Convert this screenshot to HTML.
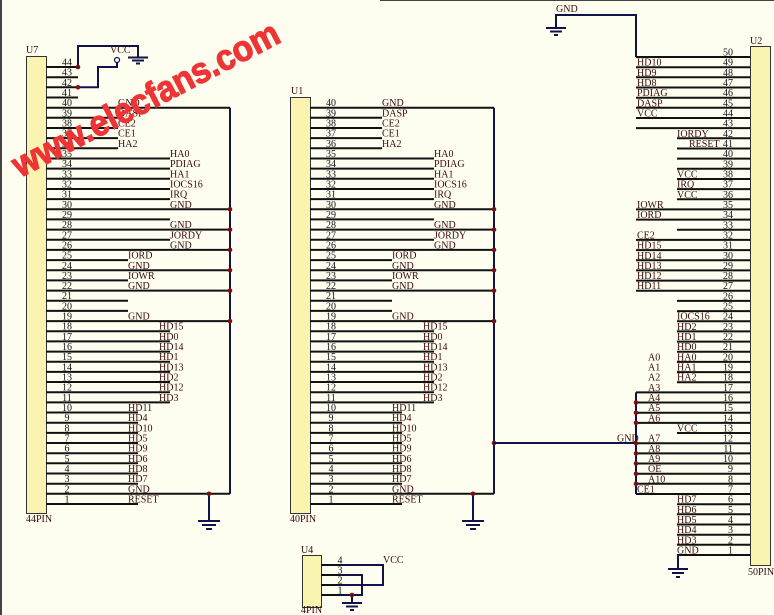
<!DOCTYPE html>
<html><head><meta charset="utf-8"><style>
html,body{margin:0;padding:0;background:#fefef0;}
svg{display:block;}
text{font-family:"Liberation Serif",serif;font-size:10px;fill:#3a0a0a;}
.n{fill:#111;text-anchor:middle;}
.r{fill:#111;text-anchor:end;}
.w{stroke:#12124a;stroke-width:2;fill:none;}
.p{stroke:#111;stroke-width:2;fill:none;}
.b{fill:#fbf3b0;stroke:#333;stroke-width:1;}
.d{fill:#7a1010;}
.g{stroke:#12124a;stroke-width:2;fill:none;}
</style></head><body>
<svg width="774" height="615" viewBox="0 0 774 615" xmlns="http://www.w3.org/2000/svg">
<rect x="0" y="0" width="774" height="615" fill="#fefef0"/>
<line x1="1" y1="0" x2="1" y2="615" stroke="#444" stroke-width="2"/>
<line x1="380" y1="0.5" x2="774" y2="0.5" stroke="#444" stroke-width="1"/>

<!-- ================= U7 ================= -->
<rect class="b" x="26.5" y="56.5" width="20" height="457"/>
<text x="26" y="53">U7</text>
<text x="26" y="522">44PIN</text>
<path class="p" d="M46 67H78M46 77.2H78M46 87.3H78M46 97.5H78
M46 107.7H230M46 117.8H118M46 128H118M46 138.1H118M46 148.3H118
M46 158.5H170M46 168.6H170M46 178.8H170M46 189H170M46 199.1H170
M46 209.3H230M46 219.4H170M46 229.6H230M46 239.8H170M46 249.9H230
M46 260.1H128M46 270.3H230M46 280.4H128M46 290.6H230M46 300.7H128M46 310.9H128M46 321.1H230
M46 331.2H170M46 341.4H170M46 351.6H170M46 361.7H170M46 371.9H170M46 382H170M46 392.2H170M46 402.4H170
M46 412.5H138M46 422.7H138M46 432.9H138M46 443H138M46 453.2H138M46 463.3H138M46 473.5H138M46 483.7H138
M46 493.8H230M46 504H138"/>
<path class="w" d="M230 107.7V493.8M209 493.8V521M78 67V46H138V57M78 87.3H98V67H117V63"/>
<circle cx="117" cy="60" r="2.5" fill="none" stroke="#12124a" stroke-width="1.2"/>
<text x="110" y="53">VCC</text>
<path class="g" d="M128 57.5H148M132 60.5H144M136 63.5H140"/>
<path class="g" d="M198 521H220M202 525H216M206 529H212"/>
<g class="d"><circle cx="78" cy="67" r="2.3"/><circle cx="78" cy="87.3" r="2.3"/>
<circle cx="230" cy="209.3" r="2.3"/><circle cx="230" cy="229.6" r="2.3"/><circle cx="230" cy="249.9" r="2.3"/><circle cx="230" cy="270.3" r="2.3"/><circle cx="230" cy="290.6" r="2.3"/><circle cx="230" cy="321.1" r="2.3"/><circle cx="209" cy="493.8" r="2.3"/></g>
<g>
<text class="n" x="67" y="65.5">44</text><text class="n" x="67" y="75.7">43</text><text class="n" x="67" y="85.8">42</text><text class="n" x="67" y="96">41</text>
<text class="n" x="67" y="106.2">40</text><text class="n" x="67" y="116.3">39</text><text class="n" x="67" y="126.5">38</text><text class="n" x="67" y="136.6">37</text><text class="n" x="67" y="146.8">36</text><text class="n" x="67" y="157">35</text><text class="n" x="67" y="167.1">34</text><text class="n" x="67" y="177.3">33</text><text class="n" x="67" y="187.5">32</text><text class="n" x="67" y="197.6">31</text><text class="n" x="67" y="207.8">30</text><text class="n" x="67" y="217.9">29</text><text class="n" x="67" y="228.1">28</text><text class="n" x="67" y="238.3">27</text><text class="n" x="67" y="248.4">26</text><text class="n" x="67" y="258.6">25</text><text class="n" x="67" y="268.8">24</text><text class="n" x="67" y="278.9">23</text><text class="n" x="67" y="289.1">22</text><text class="n" x="67" y="299.2">21</text><text class="n" x="67" y="309.4">20</text><text class="n" x="67" y="319.6">19</text><text class="n" x="67" y="329.7">18</text><text class="n" x="67" y="339.9">17</text><text class="n" x="67" y="350.1">16</text><text class="n" x="67" y="360.2">15</text><text class="n" x="67" y="370.4">14</text><text class="n" x="67" y="380.5">13</text><text class="n" x="67" y="390.7">12</text><text class="n" x="67" y="400.9">11</text><text class="n" x="67" y="411">10</text><text class="n" x="67" y="421.2">9</text><text class="n" x="67" y="431.4">8</text><text class="n" x="67" y="441.5">7</text><text class="n" x="67" y="451.7">6</text><text class="n" x="67" y="461.8">5</text><text class="n" x="67" y="472">4</text><text class="n" x="67" y="482.2">3</text><text class="n" x="67" y="492.3">2</text><text class="n" x="67" y="502.5">1</text>
</g>
<g>
<text x="118" y="106.2">GND</text><text x="118" y="116.3">DASP</text><text x="118" y="126.5">CE2</text><text x="118" y="136.6">CE1</text><text x="118" y="146.8">HA2</text>
<text x="170" y="157">HA0</text><text x="170" y="167.1">PDIAG</text><text x="170" y="177.3">HA1</text><text x="170" y="187.5">IOCS16</text><text x="170" y="197.6">IRQ</text><text x="170" y="207.8">GND</text><text x="170" y="228.1">GND</text><text x="170" y="238.3">JORDY</text><text x="170" y="248.4">GND</text>
<text x="128" y="258.6">IORD</text><text x="128" y="268.8">GND</text><text x="128" y="278.9">IOWR</text><text x="128" y="289.1">GND</text><text x="128" y="319.6">GND</text>
<text x="159" y="329.7">HD15</text><text x="159" y="339.9">HD0</text><text x="159" y="350.1">HD14</text><text x="159" y="360.2">HD1</text><text x="159" y="370.4">HD13</text><text x="159" y="380.5">HD2</text><text x="159" y="390.7">HD12</text><text x="159" y="400.9">HD3</text>
<text x="128" y="411">HD11</text><text x="128" y="421.2">HD4</text><text x="128" y="431.4">HD10</text><text x="128" y="441.5">HD5</text><text x="128" y="451.7">HD9</text><text x="128" y="461.8">HD6</text><text x="128" y="472">HD8</text><text x="128" y="482.2">HD7</text><text x="128" y="492.3">GND</text><text x="128" y="502.5">RESET</text>
</g>

<!-- ================= U1 ================= -->
<g transform="translate(264,0)">
<rect class="b" x="26.5" y="97.5" width="20" height="416"/>
<text x="27" y="94">U1</text>
<text x="26" y="522">40PIN</text>
<path class="p" d="M46 107.7H230M46 117.8H118M46 128H118M46 138.1H118M46 148.3H118
M46 158.5H170M46 168.6H170M46 178.8H170M46 189H170M46 199.1H170
M46 209.3H230M46 219.4H170M46 229.6H230M46 239.8H170M46 249.9H230
M46 260.1H128M46 270.3H230M46 280.4H128M46 290.6H230M46 300.7H128M46 310.9H128M46 321.1H230
M46 331.2H170M46 341.4H170M46 351.6H170M46 361.7H170M46 371.9H170M46 382H170M46 392.2H170M46 402.4H170
M46 412.5H138M46 422.7H138M46 432.9H138M46 443H138M46 453.2H138M46 463.3H138M46 473.5H138M46 483.7H138
M46 493.8H230M46 504H138"/>
<path class="w" d="M230 107.7V493.8M209 493.8V521"/>
<path class="g" d="M198 521H220M202 525H216M206 529H212"/>
<g class="d"><circle cx="230" cy="209.3" r="2.3"/><circle cx="230" cy="229.6" r="2.3"/><circle cx="230" cy="249.9" r="2.3"/><circle cx="230" cy="270.3" r="2.3"/><circle cx="230" cy="290.6" r="2.3"/><circle cx="230" cy="321.1" r="2.3"/><circle cx="209" cy="493.8" r="2.3"/><circle cx="230" cy="443" r="2.3"/></g>
<g>
<text class="n" x="67" y="106.2">40</text><text class="n" x="67" y="116.3">39</text><text class="n" x="67" y="126.5">38</text><text class="n" x="67" y="136.6">37</text><text class="n" x="67" y="146.8">36</text><text class="n" x="67" y="157">35</text><text class="n" x="67" y="167.1">34</text><text class="n" x="67" y="177.3">33</text><text class="n" x="67" y="187.5">32</text><text class="n" x="67" y="197.6">31</text><text class="n" x="67" y="207.8">30</text><text class="n" x="67" y="217.9">29</text><text class="n" x="67" y="228.1">28</text><text class="n" x="67" y="238.3">27</text><text class="n" x="67" y="248.4">26</text><text class="n" x="67" y="258.6">25</text><text class="n" x="67" y="268.8">24</text><text class="n" x="67" y="278.9">23</text><text class="n" x="67" y="289.1">22</text><text class="n" x="67" y="299.2">21</text><text class="n" x="67" y="309.4">20</text><text class="n" x="67" y="319.6">19</text><text class="n" x="67" y="329.7">18</text><text class="n" x="67" y="339.9">17</text><text class="n" x="67" y="350.1">16</text><text class="n" x="67" y="360.2">15</text><text class="n" x="67" y="370.4">14</text><text class="n" x="67" y="380.5">13</text><text class="n" x="67" y="390.7">12</text><text class="n" x="67" y="400.9">11</text><text class="n" x="67" y="411">10</text><text class="n" x="67" y="421.2">9</text><text class="n" x="67" y="431.4">8</text><text class="n" x="67" y="441.5">7</text><text class="n" x="67" y="451.7">6</text><text class="n" x="67" y="461.8">5</text><text class="n" x="67" y="472">4</text><text class="n" x="67" y="482.2">3</text><text class="n" x="67" y="492.3">2</text><text class="n" x="67" y="502.5">1</text>
</g>
<g>
<text x="118" y="106.2">GND</text><text x="118" y="116.3">DASP</text><text x="118" y="126.5">CE2</text><text x="118" y="136.6">CE1</text><text x="118" y="146.8">HA2</text>
<text x="170" y="157">HA0</text><text x="170" y="167.1">PDIAG</text><text x="170" y="177.3">HA1</text><text x="170" y="187.5">IOCS16</text><text x="170" y="197.6">IRQ</text><text x="170" y="207.8">GND</text><text x="170" y="228.1">GND</text><text x="170" y="238.3">JORDY</text><text x="170" y="248.4">GND</text>
<text x="128" y="258.6">IORD</text><text x="128" y="268.8">GND</text><text x="128" y="278.9">IOWR</text><text x="128" y="289.1">GND</text><text x="128" y="319.6">GND</text>
<text x="159" y="329.7">HD15</text><text x="159" y="339.9">HD0</text><text x="159" y="350.1">HD14</text><text x="159" y="360.2">HD1</text><text x="159" y="370.4">HD13</text><text x="159" y="380.5">HD2</text><text x="159" y="390.7">HD12</text><text x="159" y="400.9">HD3</text>
<text x="128" y="411">HD11</text><text x="128" y="421.2">HD4</text><text x="128" y="431.4">HD10</text><text x="128" y="441.5">HD5</text><text x="128" y="451.7">HD9</text><text x="128" y="461.8">HD6</text><text x="128" y="472">HD8</text><text x="128" y="482.2">HD7</text><text x="128" y="492.3">GND</text><text x="128" y="502.5">RESET</text>
</g>
</g>

<!-- ================= U2 ================= -->
<rect class="b" x="750.5" y="46.5" width="20" height="519"/>
<text x="750" y="44">U2</text>
<text x="748" y="575">50PIN</text>
<path class="w" d="M494 443H636M636 392.4V494M636 57V15H556V28"/>
<text x="556" y="12">GND</text>
<path class="g" d="M546 28H566M550 31.5H562M554 35H558"/>
<path class="p" d="M636 57H750M636 67.2H750M636 77.3H750M636 87.5H750M636 97.7H750M636 107.8H750M636 118H750M636 128.1H750
M677 138.3H750M677 148.5H750M677 158.6H750M677 168.8H750M677 179H750M677 189.1H750M677 199.3H750
M636 209.4H750M636 219.6H750M677 229.8H750
M636 239.9H750M636 250.1H750M636 260.3H750M636 270.4H750M636 280.6H750M636 290.7H750
M677 300.9H750M677 311.1H750
M677 321.2H750M677 331.4H750M677 341.6H750M677 351.7H750M677 361.9H750M677 372.1H750M677 382.2H750
M636 392.4H750M636 402.5H750M636 412.7H750M636 422.9H750M677 433H750
M636 443.2H750M636 453.4H750M636 463.5H750M636 473.7H750M636 483.8H750M636 494H750
M677 504.2H750M677 514.3H750M677 524.5H750M677 534.7H750M677 544.8H750M677 555H750"/>
<path class="w" d="M678 555V569"/>
<path class="g" d="M668 569H688M672 573H684M676 577H680"/>
<g class="d"><circle cx="636" cy="402.5" r="2.3"/><circle cx="636" cy="412.7" r="2.3"/><circle cx="636" cy="422.9" r="2.3"/><circle cx="636" cy="443.2" r="2.3"/><circle cx="636" cy="453.4" r="2.3"/><circle cx="636" cy="463.5" r="2.3"/><circle cx="636" cy="473.7" r="2.3"/><circle cx="636" cy="483.8" r="2.3"/></g>
<g>
<text class="r" x="733" y="55.5">50</text><text class="r" x="733" y="65.7">49</text><text class="r" x="733" y="75.8">48</text><text class="r" x="733" y="86">47</text><text class="r" x="733" y="96.2">46</text><text class="r" x="733" y="106.3">45</text><text class="r" x="733" y="116.5">44</text><text class="r" x="733" y="126.6">43</text><text class="r" x="733" y="136.8">42</text><text class="r" x="733" y="147">41</text><text class="r" x="733" y="157.1">40</text><text class="r" x="733" y="167.3">39</text><text class="r" x="733" y="177.5">38</text><text class="r" x="733" y="187.6">37</text><text class="r" x="733" y="197.8">36</text><text class="r" x="733" y="207.9">35</text><text class="r" x="733" y="218.1">34</text><text class="r" x="733" y="228.3">33</text><text class="r" x="733" y="238.4">32</text><text class="r" x="733" y="248.6">31</text><text class="r" x="733" y="258.8">30</text><text class="r" x="733" y="268.9">29</text><text class="r" x="733" y="279.1">28</text><text class="r" x="733" y="289.2">27</text><text class="r" x="733" y="299.4">26</text><text class="r" x="733" y="309.6">25</text><text class="r" x="733" y="319.7">24</text><text class="r" x="733" y="329.9">23</text><text class="r" x="733" y="340.1">22</text><text class="r" x="733" y="350.2">21</text><text class="r" x="733" y="360.4">20</text><text class="r" x="733" y="370.6">19</text><text class="r" x="733" y="380.7">18</text><text class="r" x="733" y="390.9">17</text><text class="r" x="733" y="401">16</text><text class="r" x="733" y="411.2">15</text><text class="r" x="733" y="421.4">14</text><text class="r" x="733" y="431.5">13</text><text class="r" x="733" y="441.7">12</text><text class="r" x="733" y="451.9">11</text><text class="r" x="733" y="462">10</text><text class="r" x="733" y="472.2">9</text><text class="r" x="733" y="482.3">8</text><text class="r" x="733" y="492.5">7</text><text class="r" x="733" y="502.7">6</text><text class="r" x="733" y="512.8">5</text><text class="r" x="733" y="523">4</text><text class="r" x="733" y="533.2">3</text><text class="r" x="733" y="543.3">2</text><text class="r" x="733" y="553.5">1</text>
</g>
<g>
<text x="637" y="65.7">HD10</text><text x="637" y="75.8">HD9</text><text x="637" y="86">HD8</text><text x="637" y="96.2">PDIAG</text><text x="637" y="106.3">DASP</text><text x="637" y="116.5">VCC</text>
<text x="677" y="136.8">IORDY</text><text x="689" y="147">RESET</text><text x="677" y="177.5">VCC</text><text x="677" y="187.6">IRQ</text><text x="677" y="197.8">VCC</text>
<text x="637" y="207.9">IOWR</text><text x="637" y="218.1">IORD</text>
<text x="637" y="238.4">CE2</text><text x="637" y="248.6">HD15</text><text x="637" y="258.8">HD14</text><text x="637" y="268.9">HD13</text><text x="637" y="279.1">HD12</text><text x="637" y="289.2">HD11</text>
<text x="677" y="319.7">IOCS16</text><text x="677" y="329.9">HD2</text><text x="677" y="340.1">HD1</text><text x="677" y="350.2">HD0</text><text x="677" y="360.4">HA0</text><text x="677" y="370.6">HA1</text><text x="677" y="380.7">HA2</text>
<text x="648" y="360.4">A0</text><text x="648" y="370.6">A1</text><text x="648" y="380.7">A2</text><text x="648" y="390.9">A3</text><text x="648" y="401">A4</text><text x="648" y="411.2">A5</text><text x="648" y="421.4">A6</text>
<text x="677" y="431.5">VCC</text>
<text x="648" y="441.7">A7</text><text x="617" y="441.7">GND</text><text x="648" y="451.9">A8</text><text x="648" y="462">A9</text><text x="648" y="472.2">OE</text><text x="648" y="482.3">A10</text>
<text x="637" y="492.5">CE1</text>
<text x="677" y="502.7">HD7</text><text x="677" y="512.8">HD6</text><text x="677" y="523">HD5</text><text x="677" y="533.2">HD4</text><text x="677" y="543.3">HD3</text><text x="677" y="553.5">GND</text>
</g>

<!-- ================= U4 ================= -->
<rect class="b" x="302.5" y="555.5" width="19" height="52"/>
<text x="301" y="553">U4</text>
<text x="301" y="613">4PIN</text>
<path class="p" d="M321 565H340M321 575H340M321 585H340M321 595H340"/>
<path class="w" d="M340 565H383V585H340M340 575H362V595H340M352 595V603"/>
<path class="g" d="M342 603H362M346 606.5H358M350 610H354"/>
<circle class="d" cx="352" cy="595" r="2.3"/>
<text class="n" x="340" y="563.5">4</text><text class="n" x="340" y="573.5">3</text><text class="n" x="340" y="583.5">2</text><text class="n" x="340" y="593.5">1</text>
<text x="383" y="563">VCC</text>

<!-- watermark -->
<text transform="translate(20,178) rotate(-27.5)" textLength="296" lengthAdjust="spacingAndGlyphs" style="font-family:'Liberation Sans',sans-serif;font-size:36px;font-weight:bold;fill:#ee3535;stroke:#ee3535;stroke-width:1.2;">www.elecfans.com</text>
</svg>
</body></html>
